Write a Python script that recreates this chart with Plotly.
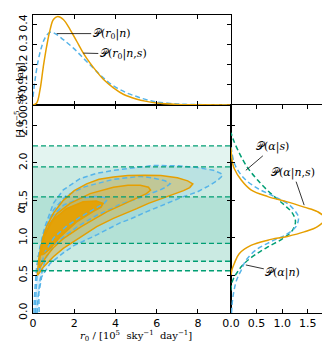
import plotly.graph_objects as go

# ---- data ----
# top panel: marginal P(r0)
r0_ns = [0, 0.18, 0.34, 0.5, 0.66, 0.83, 0.99, 1.2, 1.47, 1.8, 2.12, 2.44, 2.77, 3.09,
         3.41, 3.9, 4.4, 5.0, 5.5, 6.0, 7.0, 8.0, 9.6]
p_r0_ns = [0, 0.01, 0.075, 0.19, 0.29, 0.375, 0.425, 0.44, 0.425, 0.375, 0.317, 0.258,
           0.208, 0.166, 0.128, 0.085, 0.052, 0.03, 0.018, 0.01, 0.003, 0.001, 0]
r0_n = [0, 0.1, 0.26, 0.42, 0.58, 0.83, 1.07, 1.47, 1.96, 2.44, 2.93, 3.41, 3.9, 4.55,
        5.03, 5.5, 6.0, 7.0, 8.0, 9.0, 9.6]
p_r0_n = [0.04, 0.125, 0.225, 0.29, 0.333, 0.362, 0.355, 0.325, 0.283, 0.233, 0.183,
          0.135, 0.095, 0.06, 0.042, 0.026, 0.015, 0.005, 0.002, 0.001, 0]

# right panel: marginal P(alpha)
a_ns = [0.5, 0.58, 0.66, 0.79, 0.90, 0.97, 1.02, 1.08, 1.15, 1.26, 1.35, 1.41, 1.48,
        1.55, 1.64, 1.77, 1.92, 2.0, 2.1, 2.2]
p_a_ns = [0, 0.02, 0.065, 0.16, 0.39, 0.72, 1.10, 1.43, 1.69, 1.84, 1.69, 1.43, 1.10,
          0.72, 0.39, 0.20, 0.065, 0.03, 0.01, 0]
a_s = [0.3, 0.38, 0.46, 0.55, 0.66, 0.77, 0.88, 0.99, 1.10, 1.22, 1.33, 1.44, 1.59,
       1.77, 1.95, 2.12, 2.30, 2.40]
p_a_s = [0, 0.01, 0.05, 0.13, 0.26, 0.46, 0.72, 1.01, 1.20, 1.26, 1.20, 1.04, 0.78,
         0.52, 0.31, 0.17, 0.05, 0]
a_n = [0.0, 0.17, 0.30, 0.44, 0.57, 0.70, 0.84, 0.95, 1.04, 1.15, 1.26, 1.31, 1.44,
       1.55, 1.66, 1.79, 1.97, 2.17, 2.25]
p_a_n = [0.01, 0.03, 0.06, 0.11, 0.2, 0.29, 0.49, 0.78, 1.07, 1.27, 1.32, 1.30, 1.14,
         0.85, 0.52, 0.26, 0.08, 0.01, 0]

# credible intervals of P(alpha|s)
band_lo = [0.563, 0.69, 0.927]
band_hi = [2.225, 1.946, 1.547]

# contour outlines of P(r0, alpha | n, s)  (outer, middle, inner)
ns_r0 = [
    [0.21, 0.24, 0.28, 0.38, 0.50, 0.66, 0.99, 1.47, 2.0, 2.6, 3.2, 3.9, 4.6, 5.4, 6.2,
     7.0, 7.5, 7.75, 7.6, 7.3, 6.7, 6.17, 5.6, 5.03, 4.5, 3.9, 3.09, 2.28, 1.47, 0.99,
     0.7, 0.5, 0.32, 0.21],
    [0.32, 0.33, 0.40, 0.55, 0.8, 1.15, 1.8, 2.77, 3.9, 4.6, 5.2, 5.6, 5.7, 5.5, 5.19,
     4.7, 4.22, 3.6, 3.09, 2.28, 1.47, 0.99, 0.66, 0.45, 0.32],
    [0.40, 0.42, 0.52, 0.97, 1.62, 2.43, 3.07, 3.4, 3.3, 2.91, 2.1, 1.3, 0.81, 0.55, 0.40],
]
ns_a = [
    [0.50, 0.62, 0.72, 0.88, 1.02, 1.15, 1.33, 1.50, 1.63, 1.72, 1.78, 1.81, 1.83, 1.835,
     1.83, 1.80, 1.76, 1.72, 1.67, 1.63, 1.57, 1.52, 1.46, 1.39, 1.33, 1.26, 1.15, 1.01,
     0.86, 0.75, 0.67, 0.61, 0.54, 0.50],
    [0.60, 0.72, 0.86, 1.02, 1.18, 1.32, 1.46, 1.59, 1.675, 1.70, 1.70, 1.675, 1.635,
     1.59, 1.55, 1.49, 1.43, 1.35, 1.27, 1.14, 0.99, 0.87, 0.76, 0.66, 0.60],
    [0.77, 0.90, 1.02, 1.24, 1.39, 1.48, 1.49, 1.46, 1.41, 1.35, 1.21, 1.01, 0.85, 0.79, 0.77],
]

# contour outlines of P(r0, alpha | n)  (outer, middle, inner)
n_r0 = [
    [0.05, 0.05, 0.1, 0.18, 0.34, 0.58, 0.99, 1.47, 2.28, 3.09, 3.9, 5.19, 5.84, 7.0, 7.9,
     8.75, 9.1, 9.2, 8.92, 8.5, 7.95, 7.3, 6.65, 5.52, 4.71, 4.22, 3.09, 2.0, 1.47, 0.83,
     0.42, 0.28, 0.30],
    [0.12, 0.15, 0.26, 0.5, 0.99, 1.6, 2.5, 3.9, 5.19, 5.8, 6.4, 6.65, 6.4, 6.17, 5.6,
     5.03, 4.22, 3.9, 3.09, 2.28, 1.5, 1.0, 0.6, 0.35, 0.24, 0.2],
    [0.3, 0.35, 0.5, 0.9, 1.5, 2.3, 3.0, 3.45, 3.6, 3.45, 3.0, 2.3, 1.6, 1.0, 0.6, 0.4, 0.3],
]
n_a = [
    [0.0, 0.08, 0.35, 0.62, 0.88, 1.15, 1.46, 1.64, 1.79, 1.86, 1.90, 1.94, 1.965, 1.96,
     1.94, 1.90, 1.86, 1.83, 1.76, 1.69, 1.61, 1.55, 1.48, 1.35, 1.25, 1.20, 1.04, 0.90,
     0.80, 0.66, 0.48, 0.26, 0.0],
    [0.0, 0.3, 0.75, 1.06, 1.37, 1.56, 1.68, 1.78, 1.82, 1.80, 1.76, 1.72, 1.67, 1.64,
     1.58, 1.52, 1.45, 1.40, 1.30, 1.17, 1.02, 0.90, 0.72, 0.45, 0.2, 0.0],
    [0.55, 0.80, 1.02, 1.28, 1.44, 1.53, 1.55, 1.54, 1.51, 1.46, 1.39, 1.28, 1.15, 1.0,
     0.82, 0.65, 0.55],
]

ORANGE = "#E69F00"
BLUE = "#56B4E9"
GREEN = "#009E73"
DASH = "5px,3px"

fig = go.Figure()

# filled regions first
for i in range(3):
    fig.add_trace(go.Scatter(x=n_r0[i], y=n_a[i], fill="toself", mode="none",
                             fillcolor="rgba(86,180,233,0.13)", hoverinfo="skip",
                             showlegend=False, xaxis="x", yaxis="y"))
ns_fill = ["rgba(230,159,0,0.33)", "rgba(230,159,0,0.25)", "rgba(230,159,0,0.92)"]
for i in range(3):
    fig.add_trace(go.Scatter(x=ns_r0[i], y=ns_a[i], fill="toself", mode="none",
                             fillcolor=ns_fill[i], hoverinfo="skip",
                             showlegend=False, xaxis="x", yaxis="y"))
# contour lines
for i in range(3):
    fig.add_trace(go.Scatter(x=n_r0[i], y=n_a[i], mode="lines",
                             line=dict(color=BLUE, width=1.5, dash=DASH),
                             showlegend=False, xaxis="x", yaxis="y"))
for i in range(3):
    fig.add_trace(go.Scatter(x=ns_r0[i], y=ns_a[i], mode="lines",
                             line=dict(color=ORANGE, width=1.5),
                             showlegend=False, xaxis="x", yaxis="y"))

# top panel
fig.add_trace(go.Scatter(x=r0_n, y=p_r0_n, mode="lines", line_shape="spline",
                         line=dict(color=BLUE, width=1.5, dash=DASH),
                         showlegend=False, xaxis="x2", yaxis="y2"))
fig.add_trace(go.Scatter(x=r0_ns, y=p_r0_ns, mode="lines", line_shape="spline",
                         line=dict(color=ORANGE, width=1.5),
                         showlegend=False, xaxis="x2", yaxis="y2"))

# right panel
fig.add_trace(go.Scatter(x=p_a_s, y=a_s, mode="lines", line_shape="spline",
                         line=dict(color=GREEN, width=1.5, dash=DASH),
                         showlegend=False, xaxis="x3", yaxis="y3"))
fig.add_trace(go.Scatter(x=p_a_n, y=a_n, mode="lines", line_shape="spline",
                         line=dict(color=BLUE, width=1.5, dash=DASH),
                         showlegend=False, xaxis="x3", yaxis="y3"))
fig.add_trace(go.Scatter(x=p_a_ns, y=a_ns, mode="lines", line_shape="spline",
                         line=dict(color=ORANGE, width=1.5),
                         showlegend=False, xaxis="x3", yaxis="y3"))

# green bands and dashed interval edges
shapes = []
for lo, hi in zip(band_lo, band_hi):
    shapes.append(dict(type="rect", xref="x domain", yref="y", x0=0, x1=1, y0=lo, y1=hi,
                       fillcolor="rgba(0,158,115,0.11)", line_width=0, layer="below"))
for v in band_lo + band_hi:
    shapes.append(dict(type="line", xref="x domain", yref="y", x0=0, x1=1, y0=v, y1=v,
                       line=dict(color=GREEN, width=1.4, dash=DASH), layer="above"))

tickfont = dict(family="DejaVu Sans", size=11, color="black")
ax = dict(showline=True, linecolor="black", linewidth=1.3, mirror="ticks",
          ticks="inside", ticklen=4, tickwidth=1, tickcolor="black",
          showgrid=False, zeroline=False, tickfont=tickfont, automargin=False)

mfont = dict(family="DejaVu Serif", size=11, color="black")
arr = dict(showarrow=True, arrowhead=0, arrowwidth=0.8, arrowcolor="black", font=mfont)
annotations = [
    dict(arr, text="𝒫(<i>r</i><sub>0</sub>|<i>n</i>)", x=1.15, y=0.355, xref="x2", yref="y2",
         ax=55, ay=0),
    dict(arr, text="𝒫(<i>r</i><sub>0</sub>|<i>n</i>,<i>s</i>)", x=2.44, y=0.258,
         xref="x2", yref="y2", ax=40, ay=1),
    dict(arr, text="𝒫(<i>α</i>|<i>s</i>)", x=0.29, y=1.90, xref="x3", yref="y3",
         ax=27, ay=-23),
    dict(arr, text="𝒫(<i>α</i>|<i>n</i>,<i>s</i>)", x=1.43, y=1.436, xref="x3", yref="y3",
         ax=-11, ay=-32),
    dict(arr, text="𝒫(<i>α</i>|<i>n</i>)", x=0.29, y=0.64, xref="x3", yref="y3",
         ax=37, ay=8),
    dict(text="<i>r</i><sub>0</sub> / [10<sup>5</sup>  sky<sup>−1</sup>  day<sup>−1</sup>]",
         x=0.397, y=0.0, xref="paper", yref="paper", xanchor="center", yanchor="bottom",
         yshift=2, showarrow=False, font=dict(family="DejaVu Serif", size=10, color="black")),
    dict(text="<i>α</i>", x=0.013, y=0.407, xref="paper", yref="paper", textangle=-90,
         showarrow=False, font=dict(family="DejaVu Serif", size=12, color="black")),
    dict(text="[10<sup>−5</sup>  sky day]", x=0.008, y=0.845, xref="paper", yref="paper",
         textangle=-90, showarrow=False,
         font=dict(family="DejaVu Serif", size=10, color="black")),
]

# the page body adds an 8 px margin, so the figure is sized to fit the window
fig.update_layout(
    template="none",
    width=322, height=339,
    margin=dict(l=0, r=0, t=0, b=0),
    plot_bgcolor="white", paper_bgcolor="white",
    font=dict(family="DejaVu Sans", color="black"),
    shapes=shapes, annotations=annotations,
    xaxis=dict(ax, domain=[0.0776, 0.6925], range=[0, 9.6], anchor="y",
               tickvals=[0, 2, 4, 6, 8]),
    yaxis=dict(ax, domain=[0.1003, 0.7139], range=[0, 2.77], anchor="x",
               tickvals=[0, 0.5, 1.0, 1.5, 2.0, 2.5],
               ticktext=["0.0", "0.5", "1.0", "1.5", "2.0", "2.50"], tickangle=-90),
    xaxis2=dict(ax, domain=[0.0776, 0.6925], range=[0, 9.6], anchor="y2",
                tickvals=[0, 2, 4, 6, 8], showticklabels=False),
    yaxis2=dict(ax, domain=[0.7139, 0.9808], range=[0, 0.45], anchor="x2",
                tickvals=[0, 0.1, 0.2, 0.3, 0.4],
                ticktext=["0.0", "0.1", "0.2", "0.3", "0.4"], tickangle=-90),
    xaxis3=dict(ax, domain=[0.6925, 0.9929], range=[0, 1.89], anchor="y3",
                tickvals=[0, 0.5, 1.0, 1.5], ticktext=["0.0", "0.5", "1.0", "1.5"]),
    yaxis3=dict(ax, domain=[0.1003, 0.7139], range=[0, 2.77], anchor="x3",
                tickvals=[0, 0.5, 1.0, 1.5, 2.0, 2.5], showticklabels=False),
)

fig.write_html("out.html")
